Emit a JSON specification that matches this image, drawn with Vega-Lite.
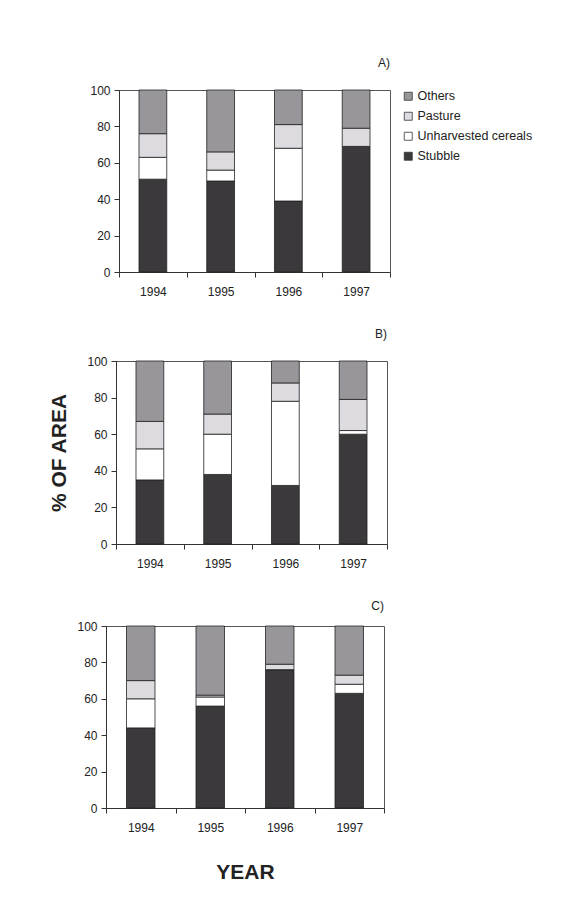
{
  "$schema": "https://vega.github.io/schema/vega-lite/v6.json",
  "background": "white",
  "padding": {"left": 37, "top": 56, "right": 0, "bottom": 0},
  "config": {
    "font": "Liberation Sans",
    "view": {"stroke": "#555", "strokeWidth": 1},
    "axis": {
      "domainColor": "#333",
      "tickColor": "#333",
      "labelColor": "#222",
      "labelFontSize": 12,
      "labelFont": "Liberation Sans",
      "grid": false,
      "tickSize": 5
    },
    "title": {"fontSize": 12, "fontWeight": "normal", "color": "#222", "anchor": "end", "frame": "group", "font": "Liberation Sans"}
  },
  "datasets": {
    "none": [],
    "a": [
      {"year": "1994", "type": "Stubble", "pct": 51},
      {"year": "1994", "type": "Unharvested cereals", "pct": 12},
      {"year": "1994", "type": "Pasture", "pct": 13},
      {"year": "1994", "type": "Others", "pct": 24},
      {"year": "1995", "type": "Stubble", "pct": 50},
      {"year": "1995", "type": "Unharvested cereals", "pct": 6},
      {"year": "1995", "type": "Pasture", "pct": 10},
      {"year": "1995", "type": "Others", "pct": 34},
      {"year": "1996", "type": "Stubble", "pct": 39},
      {"year": "1996", "type": "Unharvested cereals", "pct": 29},
      {"year": "1996", "type": "Pasture", "pct": 13},
      {"year": "1996", "type": "Others", "pct": 19},
      {"year": "1997", "type": "Stubble", "pct": 69},
      {"year": "1997", "type": "Unharvested cereals", "pct": 0},
      {"year": "1997", "type": "Pasture", "pct": 10},
      {"year": "1997", "type": "Others", "pct": 21}
    ],
    "b": [
      {"year": "1994", "type": "Stubble", "pct": 35},
      {"year": "1994", "type": "Unharvested cereals", "pct": 17},
      {"year": "1994", "type": "Pasture", "pct": 15},
      {"year": "1994", "type": "Others", "pct": 33},
      {"year": "1995", "type": "Stubble", "pct": 38},
      {"year": "1995", "type": "Unharvested cereals", "pct": 22},
      {"year": "1995", "type": "Pasture", "pct": 11},
      {"year": "1995", "type": "Others", "pct": 29},
      {"year": "1996", "type": "Stubble", "pct": 32},
      {"year": "1996", "type": "Unharvested cereals", "pct": 46},
      {"year": "1996", "type": "Pasture", "pct": 10},
      {"year": "1996", "type": "Others", "pct": 12},
      {"year": "1997", "type": "Stubble", "pct": 60},
      {"year": "1997", "type": "Unharvested cereals", "pct": 2},
      {"year": "1997", "type": "Pasture", "pct": 17},
      {"year": "1997", "type": "Others", "pct": 21}
    ],
    "c": [
      {"year": "1994", "type": "Stubble", "pct": 44},
      {"year": "1994", "type": "Unharvested cereals", "pct": 16},
      {"year": "1994", "type": "Pasture", "pct": 10},
      {"year": "1994", "type": "Others", "pct": 30},
      {"year": "1995", "type": "Stubble", "pct": 56},
      {"year": "1995", "type": "Unharvested cereals", "pct": 5},
      {"year": "1995", "type": "Pasture", "pct": 1},
      {"year": "1995", "type": "Others", "pct": 38},
      {"year": "1996", "type": "Stubble", "pct": 76},
      {"year": "1996", "type": "Unharvested cereals", "pct": 0},
      {"year": "1996", "type": "Pasture", "pct": 3},
      {"year": "1996", "type": "Others", "pct": 21},
      {"year": "1997", "type": "Stubble", "pct": 63},
      {"year": "1997", "type": "Unharvested cereals", "pct": 5},
      {"year": "1997", "type": "Pasture", "pct": 5},
      {"year": "1997", "type": "Others", "pct": 27}
    ]
  },
  "spacing": 29,
  "resolve": {"scale": {"color": "independent"}, "legend": {"color": "independent"}},
  "vconcat": [
    {
      "spacing": 0,
      "resolve": {"scale": {"color": "independent"}, "legend": {"color": "independent"}},
      "hconcat": [
        {"width": 14, "height": 1, "data": {"name": "none"}, "mark": {"type": "point"}, "encoding": {}, "view": {"stroke": null}},
        {
          "title": {"text": "A)", "offset": 14},
          "width": 271,
          "height": 182,
          "data": {"name": "a"},
          "transform": [{"window": [{"op": "row_number", "as": "k"}], "groupby": ["year"]}],
          "mark": {"type": "bar", "stroke": "#222", "strokeWidth": 0.8, "width": {"band": 0.41}},
          "encoding": {
            "x": {"field": "year", "type": "ordinal", "scale": {"paddingInner": 0, "paddingOuter": 0},
                  "axis": {"title": null, "labelAngle": 0, "tickBand": "extent", "labelPadding": 9}},
            "y": {"field": "pct", "type": "quantitative", "stack": "zero", "scale": {"domain": [0, 100], "nice": false},
                  "axis": {"values": [0, 20, 40, 60, 80, 100], "labelPadding": 4, "title": "% OF AREA", "titleColor": "#ffffff", "titleFontSize": 21, "titleFontWeight": "bold", "titlePadding": 17}},
            "order": {"field": "k", "type": "quantitative", "sort": "ascending"},
            "color": {"field": "type", "type": "nominal", "sort": ["Others", "Pasture", "Unharvested cereals", "Stubble"],
                      "scale": {"domain": ["Others", "Pasture", "Unharvested cereals", "Stubble"], "range": ["#98969a", "#dddbe0", "#ffffff", "#3b393b"]},
                      "legend": {"title": null, "orient": "right", "offset": 12, "padding": 0, "symbolType": "square", "symbolSize": 64,
                                 "symbolStrokeColor": "#333", "symbolStrokeWidth": 0.8, "labelFontSize": 12.5, "labelColor": "#222",
                                 "labelLimit": 250, "rowPadding": 7, "labelOffset": 3}}
          }
        }
      ]
    },
    {
      "spacing": 0,
      "hconcat": [
        {"width": 11, "height": 1, "data": {"name": "none"}, "mark": {"type": "point"}, "encoding": {}, "view": {"stroke": null}},
        {
          "title": {"text": "B)", "offset": 14},
          "width": 271,
          "height": 183,
          "data": {"name": "b"},
          "transform": [{"window": [{"op": "row_number", "as": "k"}], "groupby": ["year"]}],
          "mark": {"type": "bar", "stroke": "#222", "strokeWidth": 0.8, "width": {"band": 0.41}},
          "encoding": {
            "x": {"field": "year", "type": "ordinal", "scale": {"paddingInner": 0, "paddingOuter": 0},
                  "axis": {"title": null, "labelAngle": 0, "tickBand": "extent", "labelPadding": 9}},
            "y": {"field": "pct", "type": "quantitative", "stack": "zero", "scale": {"domain": [0, 100], "nice": false},
                  "axis": {"values": [0, 20, 40, 60, 80, 100], "labelPadding": 4, "title": "% OF AREA", "titleColor": "#222", "titleFontSize": 21, "titleFontWeight": "bold", "titlePadding": 17}},
            "order": {"field": "k", "type": "quantitative", "sort": "ascending"},
            "color": {"field": "type", "type": "nominal", "sort": ["Others", "Pasture", "Unharvested cereals", "Stubble"],
                      "scale": {"domain": ["Others", "Pasture", "Unharvested cereals", "Stubble"], "range": ["#98969a", "#dddbe0", "#ffffff", "#3b393b"]},
                      "legend": null}
          }
        }
      ]
    },
    {
      "spacing": 0,
      "hconcat": [
        {"width": 1, "height": 1, "data": {"name": "none"}, "mark": {"type": "point"}, "encoding": {}, "view": {"stroke": null}},
        {
          "title": {"text": "C)", "offset": 7},
          "width": 278,
          "height": 182,
          "data": {"name": "c"},
          "transform": [{"window": [{"op": "row_number", "as": "k"}], "groupby": ["year"]}],
          "mark": {"type": "bar", "stroke": "#222", "strokeWidth": 0.8, "width": {"band": 0.41}},
          "encoding": {
            "x": {"field": "year", "type": "ordinal", "scale": {"paddingInner": 0, "paddingOuter": 0},
                  "axis": {"title": "YEAR", "titleFontSize": 21, "titleFontWeight": "bold", "titleColor": "#222", "titlePadding": 28, "labelAngle": 0, "tickBand": "extent", "labelPadding": 9}},
            "y": {"field": "pct", "type": "quantitative", "stack": "zero", "scale": {"domain": [0, 100], "nice": false},
                  "axis": {"values": [0, 20, 40, 60, 80, 100], "labelPadding": 4, "title": "% OF AREA", "titleColor": "#ffffff", "titleFontSize": 21, "titleFontWeight": "bold", "titlePadding": 17}},
            "order": {"field": "k", "type": "quantitative", "sort": "ascending"},
            "color": {"field": "type", "type": "nominal", "sort": ["Others", "Pasture", "Unharvested cereals", "Stubble"],
                      "scale": {"domain": ["Others", "Pasture", "Unharvested cereals", "Stubble"], "range": ["#98969a", "#dddbe0", "#ffffff", "#3b393b"]},
                      "legend": null}
          }
        }
      ]
    }
  ]
}
